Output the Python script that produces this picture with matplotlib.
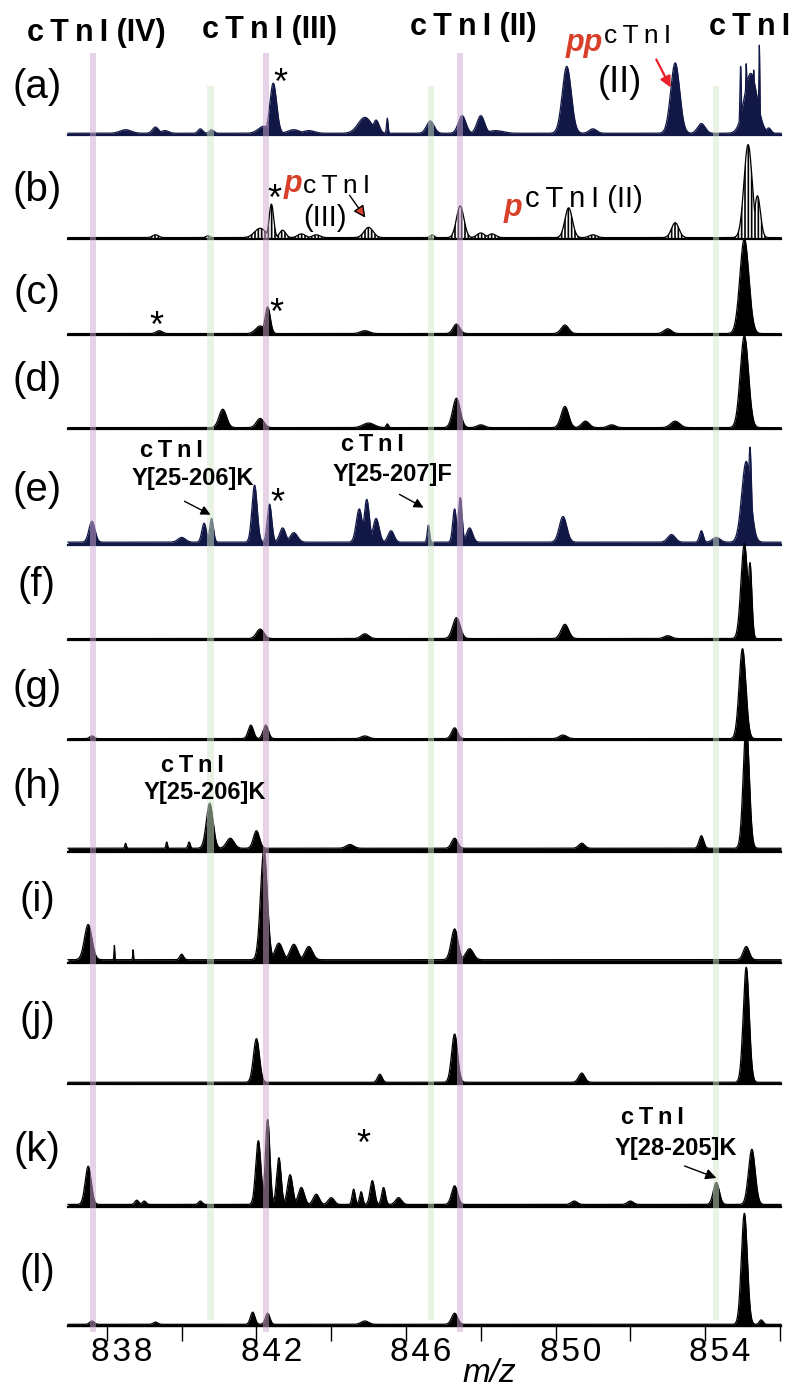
import numpy as np
import matplotlib
matplotlib.use("Agg")
import matplotlib.pyplot as plt
from matplotlib.transforms import ScaledTranslation

# ---------------- data ----------------
panel_names = ["(a)", "(b)", "(c)", "(d)", "(e)", "(f)", "(g)", "(h)", "(i)", "(j)", "(k)", "(l)"]
major_ticks = [838, 842, 846, 850, 854]
minor_ticks = [840, 844, 848, 852, 856]
pink_bands = [837.63, 842.25, 847.44]
green_bands = [840.77, 846.67, 854.30]
headers = ["cTnI (IV)", "cTnI (III)", "cTnI (II)", "cTnI"]

# peak lists: m/z, relative intensity (% of the panel's base peak), peak width (sigma, m/z)
a_mz = [838.5, 839.3, 839.55, 840.5, 840.8, 842.2, 842.45, 843.0, 843.4, 844.9, 845.2, 845.5, 846.65, 847.5, 848.0, 848.4, 850.3, 851.0, 853.2, 853.9, 855.22, 854.95, 855.1, 855.3, 855.45, 855.7]
a_int = [4, 7, 3, 5, 4, 8, 57, 4, 3, 18, 15, 17, 14, 20, 20, 3, 76, 5, 80, 11, 68, 76, 79, 72, 100, 6]
a_sig = [0.15, 0.08, 0.1, 0.06, 0.06, 0.15, 0.09, 0.15, 0.15, 0.18, 0.08, 0.02, 0.1, 0.1, 0.1, 0.2, 0.12, 0.1, 0.12, 0.1, 0.17, 0.02, 0.02, 0.02, 0.015, 0.06]

b_mz = [839.3, 840.7, 842.1, 842.4, 842.7, 843.2, 843.6, 845.0, 846.7, 847.45, 848.0, 848.3, 850.35, 851.0, 853.2, 855.15, 855.4]
b_int = [3, 2, 10, 36, 8, 4, 3, 11, 3, 34, 5, 4, 32, 3, 16, 100, 45]
b_sig = [0.08, 0.05, 0.15, 0.06, 0.08, 0.1, 0.1, 0.12, 0.05, 0.1, 0.1, 0.1, 0.1, 0.1, 0.1, 0.11, 0.08]

c_mz = [839.4, 842.1, 842.3, 844.9, 847.35, 850.25, 853.0, 855.05]
c_int = [3, 8, 28, 3, 10, 9, 5, 100]
c_sig = [0.08, 0.12, 0.07, 0.12, 0.09, 0.1, 0.1, 0.12]

d_mz = [841.1, 842.1, 845.0, 845.5, 847.35, 848.0, 850.25, 850.8, 851.5, 853.2, 855.05]
d_int = [20, 10, 5, 4, 32, 3, 23, 7, 3, 7, 100]
d_sig = [0.1, 0.1, 0.15, 0.03, 0.1, 0.1, 0.1, 0.1, 0.1, 0.12, 0.11]

e_mz = [837.6, 840.0, 840.6, 840.8, 841.95, 842.35, 842.7, 843.0, 844.75, 844.95, 845.2, 845.6, 846.6, 847.3, 847.45, 847.7, 850.2, 853.1, 853.9, 854.3, 855.1, 855.2]
e_int = [22, 5, 20, 25, 60, 40, 15, 10, 35, 45, 25, 12, 18, 35, 47, 15, 27, 8, 12, 5, 85, 100]
e_sig = [0.08, 0.1, 0.06, 0.05, 0.07, 0.06, 0.08, 0.1, 0.08, 0.07, 0.08, 0.08, 0.03, 0.05, 0.05, 0.08, 0.1, 0.1, 0.05, 0.1, 0.12, 0.04]

f_mz = [842.1, 844.9, 847.35, 850.25, 853.0, 855.05, 855.2]
f_int = [10, 5, 22, 15, 3, 100, 80]
f_sig = [0.1, 0.1, 0.1, 0.1, 0.1, 0.09, 0.05]

g_mz = [837.6, 841.85, 842.25, 844.9, 847.3, 850.2, 855.0]
g_int = [3, 15, 15, 3, 12, 4, 100]
g_sig = [0.06, 0.07, 0.07, 0.1, 0.08, 0.1, 0.09]

h_mz = [838.5, 839.6, 840.2, 840.75, 841.3, 842.0, 844.5, 847.3, 850.7, 853.9, 855.1]
h_int = [4, 5, 5, 36, 8, 14, 3, 8, 4, 10, 100]
h_sig = [0.02, 0.02, 0.03, 0.09, 0.1, 0.08, 0.1, 0.08, 0.08, 0.06, 0.08]

i_mz = [837.5, 838.2, 838.7, 840.0, 842.2, 842.6, 843.0, 843.4, 847.3, 847.7, 855.1]
i_int = [32, 13, 9, 5, 100, 15, 14, 12, 28, 10, 12]
i_sig = [0.1, 0.01, 0.01, 0.05, 0.09, 0.1, 0.1, 0.1, 0.09, 0.1, 0.08]

j_mz = [842.0, 845.3, 847.3, 850.7, 855.1]
j_int = [38, 7, 42, 8, 100]
j_sig = [0.08, 0.06, 0.08, 0.08, 0.08]

k_mz = [837.5, 838.8, 839.0, 840.5, 842.05, 842.3, 842.6, 842.9, 843.2, 843.6, 844.0, 844.6, 844.8, 845.1, 845.4, 845.8, 847.3, 850.5, 852.0, 854.3, 855.25]
k_int = [45, 5, 4, 4, 75, 100, 55, 35, 20, 12, 8, 18, 15, 28, 20, 8, 22, 4, 4, 26, 65]
k_sig = [0.08, 0.05, 0.05, 0.05, 0.07, 0.06, 0.06, 0.07, 0.08, 0.08, 0.08, 0.04, 0.04, 0.06, 0.05, 0.08, 0.08, 0.08, 0.08, 0.08, 0.09]

l_mz = [837.6, 839.3, 841.9, 842.3, 844.9, 847.3, 855.05, 855.5]
l_int = [3, 2, 11, 10, 3, 10, 100, 4]
l_sig = [0.06, 0.06, 0.06, 0.06, 0.1, 0.08, 0.08, 0.05]

# ---------------- style / layout ----------------
W, H = 793, 1388
XMIN, XMAX = 836.96, 856.03
L_PX, R_PX = 68, 781
NAVY = "#111846"
RED = "#D8402A"

spectra = [(a_mz, a_int, a_sig), (b_mz, b_int, b_sig), (c_mz, c_int, c_sig), (d_mz, d_int, d_sig),
           (e_mz, e_int, e_sig), (f_mz, f_int, f_sig), (g_mz, g_int, g_sig), (h_mz, h_int, h_sig),
           (i_mz, i_int, i_sig), (j_mz, j_int, j_sig), (k_mz, k_int, k_sig), (l_mz, l_int, l_sig)]
baseline_px = [135, 239, 335, 429, 545, 640, 740, 852, 963, 1084, 1207, 1326]
peak_px = [88, 93, 95, 92, 95, 95, 90, 125, 110, 115, 85, 111]
colors = [NAVY, "black", "black", "black", NAVY, "black", "black", "black", "black", "black", "black", "black"]
label_y = [87, 190, 293, 380, 490, 585, 688, 787, 900, 1020, 1150, 1272]
floor = [2, 1.5, 1.5, 1.5, 3, 1.5, 1.5, 3, 3, 1.5, 3, 1.5]

FAM = ["Liberation Sans", "DejaVu Sans"]
plt.rcParams["font.family"] = FAM
TS = "\u2009"
HS = "\u200a"

fig = plt.figure(figsize=(W / 100, H / 100), dpi=100)
fig.patch.set_facecolor("white")

grid = np.linspace(XMIN, XMAX, 5000)
for idx, (mz, it, sg) in enumerate(spectra):
    b = baseline_px[idx]
    hp = peak_px[idx]
    ax = fig.add_axes([L_PX / W, (H - b) / H, (R_PX - L_PX) / W, hp / H])
    ax.set_xlim(XMIN, XMAX)
    ax.set_ylim(0, 100)
    prof = np.full_like(grid, floor[idx])
    for m, v, s in zip(mz, it, sg):
        prof = np.maximum(prof, floor[idx] + v * np.exp(-0.5 * ((grid - m) / s) ** 2))
    col = colors[idx]
    if idx == 1:
        plt.rcParams["hatch.linewidth"] = 1.2
        ax.fill_between(grid, 0, prof, facecolor="white", edgecolor="black", hatch="|||||", lw=0, clip_on=False)
    else:
        ax.fill_between(grid, 0, prof, color=col, lw=0, clip_on=False)
    ax.plot(grid, prof, color=col, lw=0.9, clip_on=False)
    ax.axhline(0, color=col, lw=1.6, clip_on=False)
    ax.patch.set_visible(False)
    if idx < len(spectra) - 1:
        ax.axis("off")
    else:
        for sp in ["top", "right", "left"]:
            ax.spines[sp].set_visible(False)
        ax.spines["bottom"].set_linewidth(1.6)
        ax.set_yticks([])
        ax.set_xticks(major_ticks)
        ax.set_xticks(minor_ticks, minor=True)
        ax.tick_params(axis="x", which="both", direction="out", length=11, width=1.0, pad=-3)
        ax.set_xticklabels([HS.join(str(t)) for t in major_ticks], fontsize=24, family=FAM)
        off = ScaledTranslation(15 / 100, 0, fig.dpi_scale_trans)
        for lab in ax.get_xticklabels():
            lab.set_transform(lab.get_transform() + off)

# vertical bands overlay
bx = fig.add_axes([L_PX / W, 0, (R_PX - L_PX) / W, 1])
bx.set_xlim(XMIN, XMAX)
bx.set_ylim(H, 0)
bx.axis("off")
bx.set_zorder(4)
for m in pink_bands:
    bx.fill_between([m - 0.085, m + 0.085], 53, 1332, color="#D0A8D0", alpha=0.5, lw=0)
for m in green_bands:
    bx.fill_between([m - 0.085, m + 0.085], 86, 1320, color="#D3E8C8", alpha=0.5, lw=0)

# text overlay in pixel coordinates
tx = fig.add_axes([0, 0, 1, 1])
tx.set_xlim(0, W)
tx.set_ylim(H, 0)
tx.axis("off")
tx.set_zorder(5)

def spaced(s):
    return s.replace("cTnI", "c" + TS + "T" + TS + "n" + TS + "I")

for name, y in zip(panel_names, label_y):
    tx.text(37, y, name, fontsize=29, ha="center", va="center")

hdr_pos = [(96, 33), (270, 30), (473, 27), (750, 27)]
for s, (x, y) in zip(headers, hdr_pos):
    tx.text(x, y, spaced(s), fontsize=22, fontweight="bold", ha="center", va="center")

def star(x, y):
    tx.text(x, y, "*", fontsize=26, ha="center", va="center")

# (a)
star(280, 84)
tx.text(603, 51, "pp", color=RED, fontsize=22, fontweight="bold", fontstyle="italic", ha="right", va="baseline")
tx.text(604, 43, spaced("cTnI"), fontsize=19, ha="left", va="baseline")
tx.text(620, 82, "(II)", fontsize=26, ha="center", va="center")
tx.annotate("", xy=(672, 90), xytext=(655, 57),
            arrowprops=dict(arrowstyle="-|>", color="#E8202A", lw=1.6, mutation_scale=16))
# (b)
star(274, 200)
tx.text(302, 192, "p", color=RED, fontsize=22, fontweight="bold", fontstyle="italic", ha="right", va="baseline")
tx.text(303, 193, spaced("cTnI"), fontsize=19, ha="left", va="baseline")
tx.text(325, 218, "(III)", fontsize=21, ha="center", va="center")
tx.annotate("", xy=(367, 220), xytext=(348, 193),
            arrowprops=dict(arrowstyle="-|>", facecolor="#D8402A", edgecolor="black", lw=1.0, mutation_scale=18))
tx.text(522, 216, "p", color=RED, fontsize=22, fontweight="bold", fontstyle="italic", ha="right", va="baseline")
tx.text(525, 207, spaced("cTnI") + " (II)", fontsize=21, ha="left", va="baseline")
# (c)
star(276, 314)
star(156, 327)
# (e)
tx.text(171, 450, spaced("cTnI"), fontsize=17, fontweight="bold", ha="center", va="center")
tx.text(193, 478, "Y[25-206]K", fontsize=17, fontweight="bold", ha="center", va="center")
tx.annotate("", xy=(213, 516), xytext=(182, 500),
            arrowprops=dict(arrowstyle="-|>", color="black", lw=1.0, mutation_scale=14))
star(277, 504)
tx.text(372, 444, spaced("cTnI"), fontsize=17, fontweight="bold", ha="center", va="center")
tx.text(392, 474, "Y[25-207]F", fontsize=17, fontweight="bold", ha="center", va="center")
tx.annotate("", xy=(426, 509), xytext=(397, 493),
            arrowprops=dict(arrowstyle="-|>", color="black", lw=1.0, mutation_scale=14))
# (h)
tx.text(192, 765, spaced("cTnI"), fontsize=17, fontweight="bold", ha="center", va="center")
tx.text(205, 792, "Y[25-206]K", fontsize=17, fontweight="bold", ha="center", va="center")
# (k)
star(363, 1145)
tx.text(652, 1118, spaced("cTnI"), fontsize=17, fontweight="bold", ha="center", va="center")
tx.text(676, 1148, "Y[28-205]K", fontsize=17, fontweight="bold", ha="center", va="center")
tx.annotate("", xy=(719, 1179), xytext=(682, 1165),
            arrowprops=dict(arrowstyle="-|>", color="black", lw=1.0, mutation_scale=16))

tx.text(489, 1373, "m/z", fontsize=24, fontstyle="italic", ha="center", va="center")

fig.savefig("out.png", dpi=100)
